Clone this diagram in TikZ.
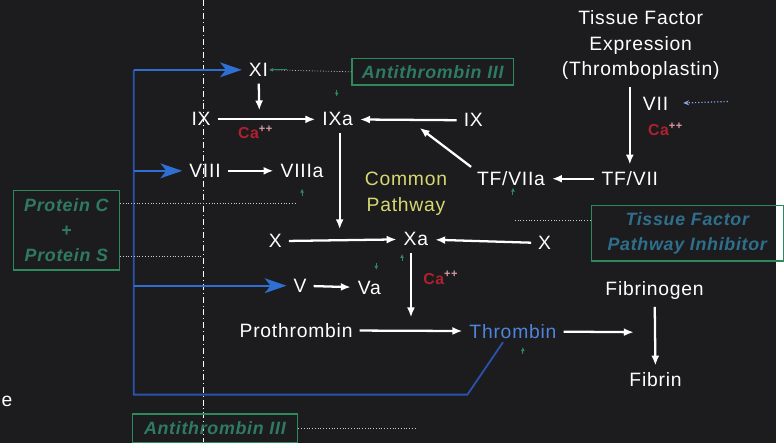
\documentclass[tikz,border=0pt]{standalone}
\usepackage{fontspec}
\setmainfont[LetterSpace=4]{Liberation Sans}
\usetikzlibrary{arrows.meta}

\definecolor{slidebg}{HTML}{1C1C1F}
\definecolor{inhgreen}{HTML}{2C8A5C}
\definecolor{inhtext}{HTML}{2F7A62}
\definecolor{tfpitext}{HTML}{2F6F8C}
\definecolor{pathblue}{HTML}{2F6FD2}
\definecolor{linkblue}{HTML}{2A52AE}
\definecolor{caRed}{HTML}{B0202E}
\definecolor{cpYellow}{HTML}{D8D870}

\begin{document}
\begin{tikzpicture}[
  x=1pt, y=-1pt,
  every node/.style={text=white!92, font=\fontsize{19.5}{26}\selectfont, inner sep=1pt},
  arr/.style={draw=white!88, line width=2.3pt, shorten <=6pt, shorten >=6pt, -{Latex[length=10pt,width=8pt]}},
  bluearr/.style={draw=pathblue, line width=2pt, shorten >=6pt, -{Stealth[length=22pt,width=15pt,inset=6pt]}},
  blueline/.style={draw=linkblue, line width=1.8pt},
  inhbox/.style={draw=inhgreen, line width=1.4pt, text=inhtext, font=\fontsize{18}{25}\selectfont\bfseries\itshape, align=center},
  calabel/.style={text=caRed, font=\fontsize{16}{18}\selectfont\bfseries},
  dotline/.style={draw=gray!40, line width=0.8pt, dotted},
  inhmark/.style={draw=inhgreen, line width=1pt, -{Latex[length=4pt,width=4pt]}}
]

% Background
\fill[slidebg] (0,0) rectangle (784,447);
\draw[white!55, line width=1pt, dash pattern=on 6pt off 3pt on 1pt off 3pt] (205,0) -- (205,447);

% Nodes
\node (XI) at (261,70) {XI};
\node (IXl) at (203,120) {IX};
\node (IXa) at (341,120) {IXa};
\node (IXr) at (478,121) {IX};
\node (TFE) at (647,45) [align=center] {Tissue Factor\\Expression\\(Thromboplastin)};
\node (VII) at (662,104) {VII};
\node (TFVIIa) at (516,180) {TF/VIIa};
\node (TFVII) at (636,180) {TF/VII};
\node (VIII) at (207,172) {VIII};
\node (VIIIa) at (305,172) {VIIIa};
\node (CP) at (410,195) [text=cpYellow, align=center] {Common\\Pathway};
\node (Xl) at (278,243) {X};
\node (Xa) at (420,241) {Xa};
\node (Xr) at (550,245) {X};
\node (V) at (303,288) {V};
\node (Va) at (373,290) {Va};
\node (Pro) at (299,333) {Prothrombin};
\node (Thr) at (518,334) [text=pathblue!85] {Thrombin};
\node (Fbg) at (661,293) {Fibrinogen};
\node (Fbn) at (662,383) {Fibrin};
\node (e) at (7,405) [text=white!70] {e};

% Calcium
\node (Ca1) at (258,133) [calabel] {Ca\textsuperscript{\textcolor{caRed!45}{++}}};
\node (Ca2) at (672,130) [calabel] {Ca\textsuperscript{\textcolor{caRed!45}{++}}};
\node (Ca3) at (445,280) [calabel] {Ca\textsuperscript{\textcolor{caRed!45}{++}}};

% Inhibitors
\node (AT1) at (437,72) [inhbox, minimum width=163pt, minimum height=27pt] {Antithrombin III};
\node (PCS) at (67,232) [inhbox, minimum width=107pt, minimum height=80pt] {Protein C\\+\\Protein S};
\node (TFPI) at (694,235) [inhbox, text=tfpitext, minimum width=194pt, minimum height=56pt] {Tissue Factor\\Pathway Inhibitor};
\node (AT2) at (217,432) [inhbox, minimum width=167pt, minimum height=29pt] {Antithrombin III};

% Meeting points
\coordinate (m1) at (262,117);
\coordinate (m2) at (419,125);
\coordinate (m3) at (343,237);
\coordinate (m4) at (415,326);
\coordinate (m5) at (646,335);

% Edges
\draw[arr] (IXl) -- (IXa);
\draw[arr] (XI) -- (m1);
\draw[arr] (IXr) -- (IXa);
\draw[arr] (TFVIIa.north west) -- (m2);
\draw[arr] (TFVII) -- (TFVIIa);
\draw[arr] (TFVII.north |- TFE.south) -- (TFVII.north);
\draw[arr] (VIII) -- (VIIIa);
\draw[arr] (IXa.south -| m3) -- (m3);
\draw[arr] (Xl) -- (Xa);
\draw[arr] (Xr) -- (Xa);
\draw[arr] (V) -- (Va);
\draw[arr] (Xa.south -| m4) -- (m4);
\draw[arr] (Pro) -- (Thr);
\draw[arr] (Thr) -- (m5);
\draw[arr] (Fbg) -- (Fbn);

% Thrombin feedback
\coordinate (b0) at (135,70);
\coordinate (b1) at (135,398);
\coordinate (b2) at (472,398);
\coordinate (b3) at (135,172);
\coordinate (b4) at (135,288);
\coordinate (tb) at (508,345);
\draw[blueline] (tb) -- (b2) -- (b1) -- (b0);
\draw[bluearr] (b0) -- (XI);
\draw[bluearr] (b3) -- (VIII);
\draw[bluearr] (b4) -- (V);
\draw[pathblue!60, line width=1.2pt, dotted, shorten >=14pt, -{Stealth[length=6pt,width=5pt]}] (735,102) -- (VII.east);

% Inhibition traces
\draw[dotline] (AT1.west) -- (XI.east);
\draw[dotline] (PCS.east |- 0,205) -- (300,205);
\draw[dotline] (PCS.east |- 0,258) -- (205,258);
\draw[dotline] (TFPI.west |- 0,222) -- (520,222);
\draw[dotline] (AT2.east) -- (420,432);
\draw[inhmark] (290,70) -- (XI.east);
\draw[inhmark] (340,90) -- (340,97);
\draw[inhmark] (305,197) -- (305,190);
\draw[inhmark] (518,196) -- (518,189);
\draw[inhmark] (406,263) -- (406,256);
\draw[inhmark] (380,265) -- (380,272);
\draw[inhmark] (528,357) -- (528,350);

\end{tikzpicture}
\end{document}
